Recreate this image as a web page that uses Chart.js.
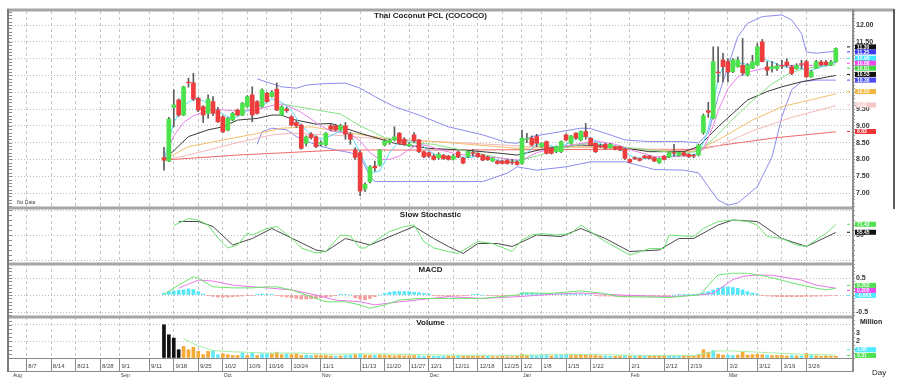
<!DOCTYPE html>
<html>
<head>
<meta charset="utf-8">
<script src="https://cdn.jsdelivr.net/npm/chart.js@4.4.1/dist/chart.umd.min.js"></script>
<style>
  html, body { margin: 0; padding: 0; background: #fff; }
  canvas { display: block; }
</style>
</head>
<body>
<canvas id="chart" width="906" height="390" style="width:906px;height:390px"></canvas>
<script>
const chartTitle = 'Thai Coconut PCL (COCOCO)';
const panelTitles = ['Slow Stochastic', 'MACD', 'Volume'];

// x axis: trading-day index (0 = first traded day)
const tickDays = [-28, -23, -18, -13, -9, -3, 2, 7, 12, 17, 21, 26, 32, 40, 45, 50, 54, 59, 64, 69, 73, 77, 82, 87, 95, 102, 107, 115, 121, 126, 131];
const tickText = ['8/7', '8/14', '8/21', '8/28', '9/1', '9/11', '9/18', '9/25', '10/2', '10/9', '10/16', '10/24', '11/1', '11/13', '11/20', '11/27', '12/1', '12/11', '12/18', '12/25', '1/2', '1/8', '1/15', '1/22', '2/1', '2/12', '2/19', '3/2', '3/12', '3/19', '3/26'];
const monthDays = [-31, -9, 12, 32, 54, 73, 95, 115];
const monthText = ['Aug', 'Sep', 'Oct', 'Nov', 'Dec', 'Jan', 'Feb', 'Mar'];

// daily candles
const open = [8.05,7.95,9.55,9.77,9.32,10.30,10.28,9.82,9.57,9.37,9.72,9.47,9.27,8.87,9.17,9.47,9.32,9.57,9.92,9.72,
  9.57,9.97,9.87,10.09,9.32,9.50,9.27,9.10,9.02,8.48,8.75,8.67,8.45,8.43,9.00,9.00,8.88,9.00,8.75,8.28,
  8.20,7.12,7.34,7.80,7.83,8.43,8.50,8.58,8.78,8.60,8.40,8.73,8.58,8.23,8.20,8.10,8.05,8.12,8.10,8.00,
  8.22,8.04,8.08,8.20,8.18,8.13,8.07,7.95,7.95,7.95,7.97,7.92,7.93,7.88,8.60,8.63,8.68,8.38,8.53,8.33,
  8.23,8.23,8.73,8.48,8.78,8.58,8.83,8.63,8.48,8.40,8.45,8.35,8.38,8.38,8.30,8.00,8.05,8.02,8.10,8.10,
  8.05,7.90,8.10,8.07,8.20,8.12,8.20,8.15,8.12,8.13,8.80,9.45,9.22,10.60,10.96,10.91,10.61,10.76,10.80,10.51,
  10.71,10.81,11.50,10.75,10.70,10.70,10.80,10.90,10.76,10.70,10.85,10.91,10.46,10.71,10.90,10.90,10.82,10.91];
const high = [8.36,9.25,10.07,9.80,10.18,10.42,10.56,9.85,9.60,9.92,9.87,9.55,9.30,9.25,9.40,9.50,9.70,9.90,10.16,9.75,
  10.10,10.00,10.05,10.28,9.60,9.55,9.30,9.15,9.05,8.70,8.80,8.70,8.55,8.80,9.05,9.05,9.05,9.10,8.80,8.35,
  8.25,7.30,7.82,7.95,8.30,8.60,8.60,8.97,8.80,8.65,8.50,8.80,8.60,8.25,8.22,8.15,8.20,8.15,8.12,8.15,
  8.25,8.06,8.25,8.30,8.20,8.15,8.10,8.05,7.98,7.98,8.00,8.00,7.96,8.87,8.78,8.70,8.75,8.50,8.55,8.35,
  8.40,8.55,8.76,8.72,8.80,8.85,9.07,8.65,8.50,8.45,8.48,8.48,8.40,8.40,8.32,8.02,8.08,8.04,8.12,8.12,
  8.07,8.05,8.12,8.22,8.45,8.22,8.22,8.17,8.15,8.45,9.35,9.70,11.35,11.35,11.16,11.00,11.00,11.05,11.60,10.85,
  11.10,11.45,11.57,10.91,10.91,10.85,10.95,11.00,10.80,10.85,10.95,10.95,10.65,10.95,10.95,10.95,10.95,11.32];
const low = [7.68,7.93,8.97,9.28,9.30,10.15,9.75,9.42,9.10,9.23,9.30,9.10,8.80,8.85,9.15,9.30,9.30,9.55,9.12,9.35,
  9.55,9.70,9.85,9.45,9.30,9.40,9.00,8.95,8.30,8.40,8.60,8.35,8.40,8.40,8.85,8.85,8.85,8.60,8.45,8.00,
  6.92,7.05,7.30,7.65,7.80,8.40,8.45,8.55,8.45,8.42,8.38,8.50,8.20,8.05,8.05,7.98,8.00,8.00,7.98,7.98,
  8.05,7.87,8.05,8.10,8.06,7.96,7.97,7.93,7.86,7.86,7.86,7.85,7.83,7.85,8.50,8.40,8.38,8.36,8.16,8.16,
  8.20,8.20,8.55,8.45,8.60,8.55,8.60,8.40,8.20,8.35,8.30,8.33,8.28,8.26,8.00,7.90,8.00,7.95,8.03,8.01,
  7.93,7.88,7.98,8.05,8.10,8.10,8.10,8.06,8.05,8.10,8.75,9.25,9.20,10.30,10.31,10.31,10.58,10.74,10.50,10.48,
  10.70,10.80,10.90,10.50,10.60,10.65,10.70,10.75,10.52,10.68,10.70,10.44,10.44,10.70,10.78,10.78,10.80,10.89];
const close = [7.98,9.20,9.62,9.32,10.16,10.28,9.80,9.47,9.32,9.79,9.37,9.12,8.82,9.22,9.37,9.32,9.67,9.87,9.32,9.37,
  10.07,9.72,10.00,9.47,9.57,9.45,9.02,9.00,8.33,8.67,8.65,8.38,8.50,8.78,8.90,8.88,9.00,8.75,8.60,8.06,
  7.06,7.26,7.78,7.75,8.28,8.55,8.57,8.67,8.48,8.45,8.45,8.55,8.23,8.08,8.10,8.00,8.15,8.02,8.00,8.10,
  8.07,7.89,8.23,8.18,8.08,7.98,7.99,8.03,7.88,7.88,7.88,7.90,7.85,8.63,8.62,8.43,8.48,8.48,8.18,8.18,
  8.38,8.53,8.58,8.70,8.63,8.83,8.68,8.43,8.23,8.38,8.33,8.45,8.30,8.28,8.03,7.92,8.02,7.97,8.05,8.03,
  7.95,8.03,8.00,8.20,8.18,8.20,8.12,8.08,8.10,8.43,9.30,9.40,10.91,10.58,10.76,10.60,10.96,10.96,10.58,10.81,
  10.91,11.35,10.91,10.65,10.76,10.78,10.78,10.80,10.56,10.80,10.83,10.46,10.61,10.91,10.82,10.82,10.90,11.30];

// overlays: [day, price]
const maFast = [[0,7.98],[2,9.1],[4,9.6],[6,9.8],[8,9.75],[10,9.55],[12,9.35],[14,9.2],[16,9.35],[18,9.55],[20,9.6],[22,9.8],[24,9.7],[26,9.45],[28,9.0],[30,8.75],[32,8.6],[34,8.7],[36,8.85],[38,8.75],[40,8.2],[42,7.6],[44,7.65],[46,8.2],[48,8.55],[50,8.55],[52,8.5],[54,8.25],[56,8.1],[58,8.08],[60,8.08],[62,8.05],[64,8.1],[66,8.05],[68,7.98],[70,7.92],[72,7.92],[74,8.2],[76,8.45],[78,8.45],[80,8.35],[82,8.45],[84,8.6],[86,8.7],[88,8.55],[90,8.4],[92,8.37],[94,8.2],[96,8.05],[98,8.03],[100,8.03],[102,8.02],[104,8.12],[106,8.15],[108,8.15],[109,8.2],[110,8.5],[111,8.9],[112,9.6],[113,10.4],[114,10.75],[116,10.85],[118,10.85],[120,10.8],[122,11.0],[124,10.9],[126,10.78],[128,10.72],[130,10.7],[132,10.65],[134,10.75],[137,10.9]];
const maMid = [[0,7.98],[2,8.7],[4,9.1],[6,9.3],[10,9.5],[14,9.45],[18,9.45],[22,9.6],[24,9.65],[26,9.55],[28,9.4],[30,9.2],[32,9.0],[34,8.85],[36,8.8],[38,8.75],[40,8.55],[42,8.2],[44,8.0],[46,8.0],[48,8.1],[50,8.3],[52,8.45],[54,8.4],[56,8.3],[60,8.15],[64,8.1],[68,8.05],[72,7.98],[74,8.05],[76,8.2],[80,8.35],[84,8.45],[88,8.55],[92,8.45],[96,8.25],[100,8.08],[104,8.08],[108,8.12],[110,8.3],[112,9.0],[113,9.45],[115,10.1],[117,10.45],[119,10.6],[122,10.7],[126,10.8],[130,10.8],[134,10.8],[137,10.88]];
const maGreen = [[24,9.65],[30,9.5],[36,9.35],[40,9.0],[45,8.65],[50,8.5],[55,8.45],[60,8.3],[65,8.15],[70,8.0],[72,7.95],[76,8.1],[80,8.3],[86,8.48],[92,8.4],[99,8.28],[106,8.18],[109,8.25],[112,8.6],[116,9.2],[120,9.75],[124,10.25],[128,10.6],[133,10.76],[137,10.81]];
const maBlack = [[0,7.98],[5,8.68],[9,8.88],[12,8.97],[15,9.17],[19,9.22],[22,9.32],[24,9.32],[26,9.2],[31,9.05],[34,9.07],[40,8.78],[47,8.48],[54,8.33],[61,8.28],[68,8.19],[72,8.13],[78,8.33],[85,8.43],[92,8.38],[99,8.23],[106,8.23],[109,8.38],[113,8.97],[116,9.37],[119,9.77],[123,10.02],[126,10.16],[130,10.31],[137,10.5]];
const maOrange = [[0,7.98],[5,8.38],[14,8.63],[21,8.83],[24,8.93],[30,8.97],[35,8.85],[45,8.63],[58,8.5],[72,8.33],[86,8.38],[99,8.28],[108,8.23],[113,8.58],[120,9.17],[126,9.57],[137,9.95]];
const maPink = [[0,7.98],[5,8.13],[15,8.5],[22,8.73],[26,8.78],[35,8.72],[45,8.6],[60,8.5],[75,8.38],[90,8.35],[108,8.25],[113,8.4],[120,8.85],[128,9.25],[137,9.6]];
const maRed = [[0,7.98],[15,8.13],[36,8.28],[60,8.28],[90,8.3],[108,8.3],[115,8.45],[125,8.65],[137,8.82]];
const bbUpper = [[19,10.4],[21,10.3],[24,10.16],[27,10.12],[29,10.21],[33,10.26],[37,10.27],[40,10.12],[43,9.87],[47,9.57],[52,9.32],[58,8.97],[65,8.73],[70,8.5],[72,8.48],[75,8.68],[81,8.83],[85,8.93],[87,8.92],[91,8.73],[94,8.58],[99,8.53],[106,8.53],[109,8.49],[111,8.78],[113,9.87],[115,10.76],[117,11.65],[119,12.05],[122,12.25],[126,12.3],[128,12.15],[130,11.75],[131,11.2],[133,11.16],[137,11.22]];
const bbLower = [[19,8.45],[20,8.82],[22,8.93],[25,8.88],[27,8.68],[31,8.43],[35,8.28],[38,8.2],[40,8.1],[42,7.5],[43,7.34],[58,7.34],[65,7.34],[70,7.59],[72,7.78],[76,7.68],[82,7.78],[87,7.93],[94,7.93],[100,7.7],[106,7.68],[109,7.6],[111,7.19],[113,6.79],[115,6.64],[117,6.7],[121,7.19],[124,8.08],[126,9.27],[128,10.07],[130,10.31],[133,10.36],[137,10.36]];

// slow stochastic: [day, value]
const stochK = [[2,69],[5,83],[7,80],[9,70],[11,44],[13,24],[15,30],[17,54],[18,50],[21,63],[23,67],[26,44],[28,24],[31,14],[33,17],[36,50],[38,48],[40,24],[41,24],[43,37],[46,57],[49,67],[51,70],[53,37],[55,24],[58,17],[60,13],[64,37],[67,33],[71,17],[73,40],[75,50],[77,53],[80,50],[83,53],[85,70],[88,50],[90,37],[95,10],[99,23],[102,23],[103,50],[106,48],[108,47],[110,63],[113,77],[116,80],[119,77],[121,70],[123,47],[126,43],[129,30],[131,27],[134,47],[135,53],[137,71]];
const stochD = [[3,77],[7,77],[10,67],[14,30],[18,43],[22,63],[26,44],[31,20],[33,17],[37,43],[42,30],[51,67],[55,43],[58,27],[61,13],[64,33],[68,33],[71,27],[76,50],[81,47],[85,63],[90,43],[95,17],[101,20],[105,43],[108,43],[113,70],[116,80],[121,77],[126,43],[131,27],[137,55]];

// MACD: [day, value]
const macdLine = [[0,0.02],[3,0.29],[6,0.54],[7,0.49],[10,0.24],[14,0.21],[18,0.21],[21,0.24],[23,0.24],[26,0.15],[30,-0.05],[33,-0.2],[37,-0.2],[40,-0.29],[42,-0.39],[45,-0.29],[48,-0.15],[52,-0.1],[58,-0.1],[65,-0.1],[72,0.0],[73,0.06],[79,0.05],[85,0.12],[89,0.06],[93,-0.05],[103,-0.07],[109,0.0],[110,0.1],[111,0.29],[112,0.45],[113,0.59],[116,0.64],[119,0.64],[123,0.54],[130,0.29],[133,0.2],[135,0.15],[137,0.2]];
const macdSignal = [[3,0.2],[7,0.44],[10,0.41],[14,0.29],[21,0.21],[26,0.15],[31,0.0],[35,-0.15],[40,-0.2],[43,-0.29],[48,-0.2],[58,-0.05],[65,-0.1],[72,-0.05],[79,0.02],[85,0.06],[89,0.03],[93,0.0],[103,-0.05],[109,0.0],[112,0.05],[114,0.25],[116,0.45],[118,0.55],[121,0.59],[124,0.58],[130,0.44],[133,0.29],[137,0.2]];
const macdHist = [0.05,0.1,0.12,0.14,0.15,0.18,0.16,0.1,0.03,-0.02,
  -0.04,-0.06,-0.07,-0.06,-0.05,-0.04,-0.03,-0.02,-0.02,0.02,0.03,0.02,0.02,-0.02,-0.04,-0.06,-0.08,-0.1,
  -0.12,-0.12,-0.11,-0.1,-0.08,-0.06,
  -0.04,-0.02,0.02,0.02,0.0,
  -0.08,-0.12,-0.14,-0.1,-0.05,0.0,
  0.05,0.08,0.1,0.1,0.1,0.1,0.08,0.07,0.05,0.03,
  -0.02,-0.03,-0.03,-0.04,-0.03,-0.03,-0.02,-0.02,
  0.01,0.01,0.0,-0.01,-0.01,-0.01,-0.02,-0.02,-0.02,-0.02,
  0.06,0.06,0.06,0.05,0.05,0.04,0.04,0.03,0.03,0.02,
  0.02,0.03,0.03,0.02,0.0,-0.02,-0.03,-0.03,
  -0.03,-0.04,-0.04,-0.05,-0.05,-0.04,-0.04,-0.03,-0.03,-0.02,-0.02,-0.01,-0.01,0.0,
  0.01,0.01,0.01,0.02,0.03,
  0.06,0.1,0.15,0.2,0.24,0.24,0.22,0.2,0.15,0.1,0.06,0.03,
  -0.01,-0.03,-0.04,-0.05,-0.05,-0.05,-0.05,-0.05,-0.05,-0.04,-0.04,-0.04,-0.03,-0.03,-0.02,-0.01];

// volume in millions, with the bar colour class (k black, o orange, c cyan)
const volume = [4.0,2.8,2.4,1.0,1.4,1.0,1.3,0.8,0.4,0.8,0.9,0.4,0.5,0.4,0.3,0.3,0.6,0.3,0.6,0.3,
  0.5,0.5,0.5,0.7,0.4,0.5,0.4,0.5,0.3,0.35,0.3,0.35,0.3,0.3,0.25,0.2,0.25,0.3,0.35,0.4,
  0.45,0.35,0.3,0.3,0.35,0.3,0.3,0.25,0.3,0.25,0.25,0.3,0.25,0.2,0.25,0.2,0.2,0.2,0.25,0.2,
  0.25,0.2,0.2,0.2,0.2,0.2,0.2,0.15,0.15,0.2,0.15,0.15,0.2,0.45,0.3,0.3,0.25,0.3,0.3,0.25,
  0.3,0.3,0.35,0.3,0.3,0.35,0.4,0.3,0.3,0.25,0.25,0.2,0.2,0.2,0.25,0.2,0.2,0.2,0.2,0.2,
  0.2,0.2,0.2,0.25,0.2,0.2,0.2,0.2,0.2,0.35,1.0,0.7,0.9,0.45,0.35,0.35,0.3,0.35,0.7,0.35,
  0.4,0.45,0.4,0.35,0.3,0.3,0.3,0.25,0.3,0.25,0.25,0.55,0.3,0.25,0.2,0.25,0.2,0.2];
const volumeKind = 'kkkkooooooccoooocococcooocooocc' +
  'oooococcocoocooooooooccocccoocoooooc' +
  'ooooooooccccocccoooooooccoocococ' +
  'oooocccoooooocooccoooooocoooocococ';
const volumeAvg = [[4,2.3],[7,1.45],[10,0.9],[14,0.75],[21,0.6],[27,0.6],[34,0.45],[41,0.5],[48,0.45],[58,0.35],[72,0.3],[79,0.45],[89,0.4],[98,0.3],[108,0.3],[113,0.85],[116,0.85],[123,0.65],[130,0.45],[137,0.35]];

// last-value tags on the right
const priceTagValue = [11.30, 11.25, 10.90, 10.88, 10.81, 10.53, 10.36, 10.02, 9.62, 8.83];
const stochTagValue = [71.43, 55.45];
const macdTagValue = [0.202, 0.205, -0.003];
const volumeTagValue = [1.00, 0.31];

const priceTagStyle = [['#111','#fff'],['#3b3bf0','#fff'],['#3ee6ff','#fff'],['#f046f0','#fff'],['#3fd83f','#fff'],['#111','#fff'],['#4a4af2','#fff'],['#f4b63c','#fff'],['#f7c6c6','#fff'],['#ee3434','#fff']];
const stochTagStyle = [['#4fe04f','#fff'],['#111','#fff']];
const macdTagStyle = [['#4fe04f','#fff'],['#f046f0','#fff'],['#52e8ff','#fff']];
const volumeTagStyle = [['#52e8ff','#fff'],['#4fe04f','#fff']];

const days = close.map((c, i) => i);
const pts = a => a.map(([x, y]) => ({ x, y }));
const kindColor = { k: '#111111', o: '#f5a937', c: '#5fe9f6' };

function line(data, color, axis) {
  return { type: 'line', data: pts(data), borderColor: color, borderWidth: 1, pointRadius: 0, tension: 0, yAxisID: axis, spanGaps: true };
}

const fontTick = { family: 'Liberation Sans', size: 7, weight: 'bold' };
function onGrid(v, list) { return list.some(g => Math.abs(v - g) < 1e-6); }
function stepTicks(from, to, step) {
  const t = [];
  for (let v = from; v <= to + 1e-9; v += step) t.push({ value: Math.round(v * 1000) / 1000 });
  return t;
}

function rightAxis(weight, min, max, ticksOf, labelOf, gridAt) {
  return {
    type: 'linear', position: 'right', stack: 'panels', stackWeight: weight, min, max,
    afterBuildTicks: s => { s.ticks = ticksOf(); },
    afterFit: s => { s.width = 41; },
    ticks: { autoSkip: false, font: fontTick, color: '#333', padding: 1, callback: v => labelOf(v) },
    grid: {
      color: c => onGrid(c.tick.value, gridAt) ? '#bcbcbc' : 'rgba(0,0,0,0)',
      tickLength: 3, tickColor: '#9a9a9a', tickBorderDash: []
    },
    border: { display: false, dash: [1, 2] }
  };
}

const panelFrame = {
  id: 'panelFrame',
  beforeDraw(chart) {
    const c = chart.ctx;
    c.save();
    c.fillStyle = '#fff';
    c.fillRect(0, 0, chart.width, chart.height);
    c.restore();
  },
  afterDraw(chart) {
    const c = chart.ctx, a = chart.chartArea, s = chart.scales;
    const L = a.left, R = a.right, mid = (L + R) / 2;
    c.save();
    // left minor ticks
    c.strokeStyle = '#8c8c8c';
    c.lineWidth = 1;
    ['y', 'yS', 'yM', 'yV'].forEach(id => {
      s[id].ticks.forEach(t => {
        const y = Math.round(s[id].getPixelForValue(t.value)) + 0.5;
        c.beginPath(); c.moveTo(L, y); c.lineTo(L + 3, y); c.stroke();
      });
    });
    // separators and borders
    c.strokeStyle = '#a6a6a6';
    c.lineWidth = 3;
    [s.y.bottom, s.yS.bottom, s.yM.bottom].forEach(y => {
      c.beginPath(); c.moveTo(L - 2, y); c.lineTo(R + 1, y); c.stroke();
    });
    c.beginPath(); c.moveTo(L - 2, a.top - 1); c.lineTo(R + 42, a.top - 1); c.stroke();
    c.strokeStyle = '#7a7a7a';
    c.lineWidth = 2;
    c.beginPath(); c.moveTo(L - 1, a.top - 2); c.lineTo(L - 1, a.bottom + 14); c.stroke();
    c.strokeStyle = '#8e8e8e';
    c.beginPath(); c.moveTo(R + 1, a.top - 2); c.lineTo(R + 1, a.bottom + 14); c.stroke();
    c.strokeStyle = '#5a5a5a';
    c.beginPath(); c.moveTo(R + 42, a.top - 2); c.lineTo(R + 42, s.y.bottom + 1); c.stroke();
    c.strokeStyle = '#8a8a8a';
    c.lineWidth = 1;
    c.beginPath(); c.moveTo(L, a.bottom + 0.5); c.lineTo(R, a.bottom + 0.5); c.stroke();
    c.beginPath(); c.moveTo(L, a.bottom + 13.5); c.lineTo(R, a.bottom + 13.5); c.stroke();

    // titles
    c.fillStyle = '#222';
    c.textAlign = 'center';
    c.textBaseline = 'top';
    c.font = 'bold 8px "Liberation Sans"';
    c.fillText(chartTitle, mid, a.top + 1);
    c.fillText(panelTitles[0], mid, s.yS.top + 3);
    c.fillText(panelTitles[1], mid, s.yM.top + 2);
    c.fillText(panelTitles[2], mid, s.yV.top + 2);
    c.font = 'bold 7px "Liberation Sans"';
    c.textAlign = 'left';
    c.fillText('Million', R + 8, s.yV.top + 2);
    c.font = '8px "Liberation Sans"';
    c.fillText('Day', R + 20, a.bottom + 11);
    c.font = '5px "Liberation Sans"';
    c.fillStyle = '#444';
    c.fillText('No Data', L + 8, s.y.bottom - 8);
    monthDays.forEach((d, i) => {
      c.fillText(monthText[i], s.x.getPixelForValue(d) + 1, a.bottom + 15);
    });

    // value tags
    function tags(scale, values, styles, digits) {
      const pos = values.map(v => scale.getPixelForValue(v));
      const h = 5;
      for (let k = 0; k < 60; k++) {
        for (let i = 1; i < pos.length; i++) {
          const gap = pos[i] - pos[i - 1];
          if (gap < h) { const d = (h - gap) / 2; pos[i - 1] -= d; pos[i] += d; }
        }
      }
      c.font = 'bold 5px "Liberation Sans"';
      c.textBaseline = 'middle';
      c.textAlign = 'left';
      values.forEach((v, i) => {
        const y = pos[i];
        c.fillStyle = styles[i][0];
        c.fillRect(R + 3, y - h / 2, 21, h);
        c.fillStyle = styles[i][1];
        c.fillText(v.toFixed(digits), R + 5, y + 0.3);
        c.strokeStyle = styles[i][0];
        c.beginPath(); c.moveTo(R - 5, y); c.lineTo(R - 2, y); c.stroke();
      });
    }
    tags(s.y, priceTagValue, priceTagStyle, 2);
    tags(s.yS, stochTagValue, stochTagStyle, 2);
    tags(s.yM, macdTagValue, macdTagStyle, 3);
    tags(s.yV, volumeTagValue, volumeTagStyle, 2);
    c.restore();
  }
};

const upColor = '#4be24b', downColor = '#ef3c3c';

new Chart(document.getElementById('chart'), {
  type: 'bar',
  data: {
    datasets: [
      { data: days.map(i => ({ x: i, y: [open[i], close[i]] })), backgroundColor: days.map(i => close[i] >= open[i] ? upColor : downColor),
        barThickness: 4, grouped: false, yAxisID: 'y' },
      { data: days.map(i => ({ x: i, y: [low[i], high[i]] })), backgroundColor: '#5c5c5c', barThickness: 1, grouped: false, yAxisID: 'y' },
      line(maFast, '#59dcf7', 'y'),
      line(maMid, '#ea82ea', 'y'),
      line(maGreen, '#86e486', 'y'),
      line(maBlack, '#3a3a3a', 'y'),
      line(maOrange, '#f3be6c', 'y'),
      line(maPink, '#f4b8b8', 'y'),
      line(maRed, '#ef6a6a', 'y'),
      line(bbUpper, '#8b8bf0', 'y'),
      line(bbLower, '#8b8bf0', 'y'),
      line(stochK, '#6ee46e', 'yS'),
      line(stochD, '#4a4a4a', 'yS'),
      line(macdLine, '#6ee46e', 'yM'),
      line(macdSignal, '#e77ae7', 'yM'),
      { data: days.map(i => ({ x: i, y: macdHist[i] })), backgroundColor: days.map(i => macdHist[i] >= 0 ? '#55e6f7' : '#f3a0a0'),
        barThickness: 3, grouped: false, yAxisID: 'yM' },
      line(volumeAvg, '#a6eea6', 'yV'),
      { data: days.map(i => ({ x: i, y: volume[i] })), backgroundColor: days.map(i => kindColor[volumeKind[i]] || kindColor.o),
        barThickness: 3, grouped: false, yAxisID: 'yV' }
    ]
  },
  options: {
    responsive: false,
    animation: false,
    devicePixelRatio: 1,
    events: [],
    layout: { padding: { left: 9, right: 13, top: 11, bottom: 18 } },
    plugins: { legend: { display: false }, tooltip: { enabled: false } },
    scales: {
      x: {
        type: 'linear', position: 'bottom', min: -31.6, max: 140.3, offset: false,
        afterBuildTicks: s => { s.ticks = tickDays.map(v => ({ value: v })); },
        afterFit: s => { s.height = 14; },
        ticks: { autoSkip: false, maxRotation: 0, minRotation: 0, align: 'start', padding: -8,
          font: { family: 'Liberation Sans', size: 6 }, color: '#444', callback: (v, i) => ' ' + tickText[i] },
        grid: { color: '#c6c6c6', offset: false, tickLength: 13, tickColor: '#8a8a8a', tickBorderDash: [] },
        border: { display: false, dash: [3, 3] }
      },
      y: rightAxis(197, 6.554, 12.417, () => stepTicks(6.6, 12.4, 0.1),
        v => (Math.abs(v * 2 - Math.round(v * 2)) < 1e-6 ? v.toFixed(2) : ''),
        [7, 7.5, 8, 8.5, 9, 9.5, 10, 10.5, 11, 11.5, 12]),
      yS: rightAxis(56, -8, 104, () => stepTicks(0, 100, 10), v => (v === 50 ? '50' : ''), [0, 50, 100]),
      yM: rightAxis(53, -0.647, 0.912, () => stepTicks(-0.6, 0.9, 0.1),
        v => (Math.abs(v - 0.5) < 1e-6 ? '0.5' : Math.abs(v + 0.5) < 1e-6 ? '-0.5' : ''), [-0.5, 0, 0.5]),
      yV: rightAxis(41, 0, 4.94, () => stepTicks(0, 4.5, 0.5),
        v => ([1, 2, 3].includes(v) ? String(v) : ''), [2, 4])
    }
  },
  plugins: [panelFrame]
});
</script>
</body>
</html>
